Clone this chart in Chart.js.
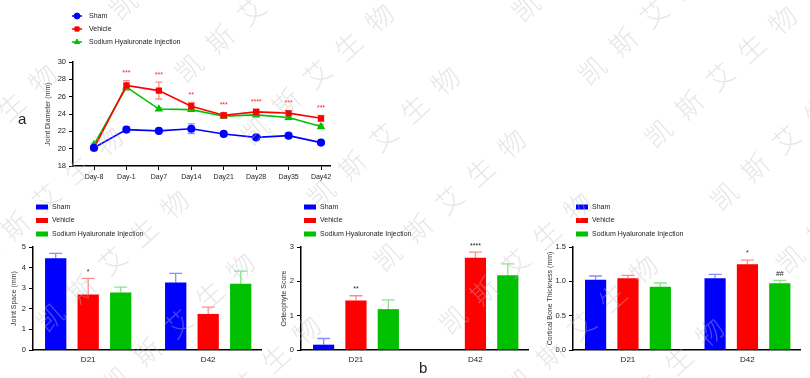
<!DOCTYPE html>
<html>
<head>
<meta charset="utf-8">
<script src="https://cdn.jsdelivr.net/npm/chart.js@4.4.1/dist/chart.umd.min.js"></script>
<style>
  body { margin: 0; background: #fff; width: 810px; height: 378px; overflow: hidden; position: relative; font-family: 'Liberation Sans', Arial, sans-serif; }
  canvas { position: absolute; }
  .panel { position: absolute; font-size: 15px; color: #222; line-height: 1; }
</style>
</head>
<body>
<canvas id="diameter-chart" style="left:0;top:0" width="360" height="190"></canvas>
<canvas id="space-chart" style="left:0;top:190px" width="270" height="188"></canvas>
<canvas id="osteo-chart" style="left:270px;top:190px" width="270" height="188"></canvas>
<canvas id="cortical-chart" style="left:540px;top:190px" width="270" height="188"></canvas>
<div class="panel" style="left:18px;top:111px">a</div>
<div class="panel" style="left:419px;top:360px">b</div>
<canvas id="watermark" style="left:0;top:0;pointer-events:none" width="810" height="378"></canvas>

<script>
// groups + colours
const groups = ['Sham', 'Vehicle', 'Sodium Hyaluronate Injection'];
const colors = ['#0000ff', '#ff0000', '#00c000'];
const errColors = ['rgba(0,0,255,0.45)', 'rgba(255,0,0,0.45)', 'rgba(0,192,0,0.45)'];
const pointStyles = ['circle', 'rect', 'triangle'];

// ** a - joint diameter over time
const days = ['Day-8', 'Day-1', 'Day7', 'Day14', 'Day21', 'Day28', 'Day35', 'Day42'];
const shamDiameter = [20.1, 22.2, 22.05, 22.3, 21.7, 21.3, 21.5, 20.7];
const shamDiameterErr = [0.15, 0.3, 0.15, 0.55, 0.15, 0.15, 0.15, 0.15];
const vehicleDiameter = [20.05, 27.3, 26.7, 24.9, 23.85, 24.25, 24.1, 23.5];
const vehicleDiameterErr = [0.15, 0.55, 0.97, 0.45, 0.3, 0.3, 0.3, 0.35];
const shiDiameter = [20.45, 27.1, 24.57, 24.5, 23.75, 23.9, 23.6, 22.55];
const shiDiameterErr = [0.2, 0.3, 0.15, 0.2, 0.2, 0.25, 0.25, 0.25];
const vehicleDiameterMarks = ['', '***', '***', '**', '***', '****', '***', '***'];

// ** b - bar panels
const timepoints = ['D21', 'D42'];

const shamSpace = [4.45, 3.28];
const shamSpaceErr = [0.24, 0.44];
const vehicleSpace = [2.69, 1.75];
const vehicleSpaceErr = [0.79, 0.33];
const shiSpace = [2.79, 3.21];
const shiSpaceErr = [0.26, 0.62];
const vehicleSpaceMarks = ['*', ''];

const shamOsteo = [0.155, null];
const shamOsteoErr = [0.18, 0];
const vehicleOsteo = [1.44, 2.69];
const vehicleOsteoErr = [0.14, 0.16];
const shiOsteo = [1.19, 2.18];
const shiOsteoErr = [0.27, 0.33];
const vehicleOsteoMarks = ['**', '****'];

const shamCortical = [1.024, 1.044];
const shamCorticalErr = [0.054, 0.058];
const vehicleCortical = [1.044, 1.248];
const vehicleCorticalErr = [0.043, 0.062];
const shiCortical = [0.922, 0.971];
const shiCorticalErr = [0.054, 0.044];
const vehicleCorticalMarks = ['', '*'];
const shiCorticalMarks = ['', '##'];

const FONT = "'Liberation Sans', Arial, sans-serif";

// error bars + star labels, drawn through the y scale
const errorBars = {
    id: 'errorBars',
    beforeDatasetsDraw(chart, args, opts) {
        if (opts.both) drawErrors(chart, opts);
    },
    afterDatasetsDraw(chart, args, opts) {
        if (!opts.both) drawErrors(chart, opts);
    }
};

function drawErrors(chart, opts) {
    const ctx = chart.ctx;
    const yScale = chart.scales.y;
    chart.data.datasets.forEach((ds, i) => {
        const meta = chart.getDatasetMeta(i);
        meta.data.forEach((el, j) => {
            const v = ds.data[j].y;
            if (v === null || v === undefined) return;
            const e = ds.err[j];
            const top = yScale.getPixelForValue(v + e);
            const bot = opts.both ? yScale.getPixelForValue(v - e) : el.y;
            ctx.save();
            ctx.strokeStyle = ds.errColor;
            ctx.lineWidth = 1.3;
            ctx.beginPath();
            ctx.moveTo(el.x, bot);
            ctx.lineTo(el.x, top);
            ctx.moveTo(el.x - opts.cap, top);
            ctx.lineTo(el.x + opts.cap, top);
            if (opts.both) {
                ctx.moveTo(el.x - opts.cap, bot);
                ctx.lineTo(el.x + opts.cap, bot);
            }
            ctx.stroke();
            if (ds.marks && ds.marks[j]) {
                ctx.fillStyle = opts.markColor;
                ctx.font = '7px ' + FONT;
                ctx.textAlign = 'center';
                ctx.textBaseline = 'bottom';
                ctx.fillText(ds.marks[j], el.x, top - opts.markGap);
            }
            ctx.restore();
        });
    });
}

// vertical legend in the top-left corner
const sideLegend = {
    id: 'sideLegend',
    afterDraw(chart, args, opts) {
        const ctx = chart.ctx;
        chart.data.datasets.forEach((ds, i) => {
            const y = opts.y + i * opts.dy;
            ctx.save();
            ctx.fillStyle = ds.backgroundColor;
            ctx.strokeStyle = ds.borderColor;
            if (opts.kind === 'line') {
                ctx.lineWidth = 1.5;
                ctx.beginPath();
                ctx.moveTo(opts.x, y);
                ctx.lineTo(opts.x + opts.w, y);
                ctx.stroke();
                ctx.lineWidth = 1;
                Chart.helpers.drawPoint(ctx, {pointStyle: ds.pointStyle, radius: 3, rotation: 0, borderWidth: 1}, opts.x + opts.w / 2, y);
            } else {
                ctx.fillRect(opts.x, y - 2.5, opts.w, 5);
            }
            ctx.fillStyle = '#222';
            ctx.font = '7px ' + FONT;
            ctx.textAlign = 'left';
            ctx.textBaseline = 'middle';
            ctx.fillText(ds.label, opts.textX, y);
            ctx.restore();
        });
    }
};

function yAxis(title, min, max, step, width, fmt) {
    return {
        min: min, max: max,
        afterFit: s => { s.width = width; },
        afterBuildTicks: s => {
            const t = [];
            for (let v = min; v <= max + 1e-9; v += step) t.push({value: +v.toFixed(3)});
            s.ticks = t;
        },
        ticks: {
            color: '#222', padding: 3,
            font: {family: FONT, size: 7.5},
            callback: fmt || (v => v)
        },
        grid: {drawOnChartArea: false, drawTicks: true, tickLength: 4, color: '#000', lineWidth: 1},
        border: {display: true, color: '#000', width: 1.5},
        title: {display: true, text: title, color: '#333', font: {family: FONT, size: 7}, padding: {top: 4, bottom: 0}}
    };
}

// ** line chart - joint diameter
const lineSets = [
    [shamDiameter, shamDiameterErr, null],
    [vehicleDiameter, vehicleDiameterErr, vehicleDiameterMarks],
    [shiDiameter, shiDiameterErr, null]
].map((s, i) => ({
    label: groups[i],
    data: days.map((d, k) => ({x: k, y: s[0][k]})),
    err: s[1],
    marks: s[2],
    errColor: errColors[i],
    borderColor: colors[i],
    backgroundColor: colors[i],
    pointStyle: pointStyles[i],
    pointRadius: 3.3,
    borderWidth: 1.6,
    tension: 0
}));

new Chart(document.getElementById('diameter-chart').getContext('2d'), {
    type: 'line',
    data: {datasets: lineSets},
    options: {
        responsive: false,
        animation: false,
        layout: {padding: {left: 40, top: 62, right: 30, bottom: 0}},
        plugins: {
            legend: {display: false},
            tooltip: {enabled: false},
            errorBars: {both: true, cap: 3.5, markColor: '#ff2020', markGap: 4},
            sideLegend: {kind: 'line', x: 72, w: 10, y: 16, dy: 13, textX: 89}
        },
        scales: {
            x: {
                type: 'linear',
                min: -0.6476, max: 7.2775,
                offset: false,
                afterFit: s => { s.height = 24; },
                afterBuildTicks: s => { s.ticks = days.map((d, k) => ({value: k})); },
                ticks: {color: '#222', padding: 3, maxRotation: 0, autoSkip: false, font: {family: FONT, size: 7}, callback: v => days[v]},
                grid: {drawOnChartArea: false, drawTicks: true, tickLength: 4, color: '#000', lineWidth: 1},
                border: {display: true, color: '#000', width: 1.5}
            },
            y: yAxis('Joint Diameter (mm)', 18, 30, 2, 33)
        }
    },
    plugins: [errorBars, sideLegend]
});

// ** bar charts
function barChart(id, yTitle, sets, yMin, yMax, yStep, yWidth, padLeft, padTop, padRight, fmt) {
    const datasets = sets.map((s, i) => ({
        label: groups[i],
        data: timepoints.map((t, k) => ({x: k, y: s[0][k]})),
        err: s[1],
        marks: s[2],
        errColor: errColors[i],
        backgroundColor: colors[i],
        borderColor: colors[i],
        borderWidth: 0,
        categoryPercentage: 0.8125,
        barPercentage: 0.655
    }));
    return new Chart(document.getElementById(id).getContext('2d'), {
        type: 'bar',
        data: {datasets: datasets},
        options: {
            responsive: false,
            animation: false,
            layout: {padding: {left: padLeft, top: padTop, right: padRight, bottom: 0}},
            plugins: {
                legend: {display: false},
                tooltip: {enabled: false},
                errorBars: {both: false, cap: 6.5, markColor: '#222', markGap: 3},
                sideLegend: {kind: 'box', x: padLeft + yWidth + 3, w: 12, y: 17, dy: 13.5, textX: padLeft + yWidth + 19}
            },
            scales: {
                x: {
                    type: 'linear',
                    min: -0.46, max: 1.44,
                    offset: false,
                    afterFit: s => { s.height = 28; },
                    afterBuildTicks: s => { s.ticks = timepoints.map((t, k) => ({value: k})); },
                    ticks: {color: '#222', padding: 5, maxRotation: 0, font: {family: FONT, size: 8}, callback: v => timepoints[v]},
                    grid: {drawOnChartArea: false, drawTicks: false, color: '#000'},
                    border: {display: true, color: '#000', width: 1.5}
                },
                y: yAxis(yTitle, yMin, yMax, yStep, yWidth, fmt)
            }
        },
        plugins: [errorBars, sideLegend]
    });
}

barChart('space-chart', 'Joint Space (mm)', [
    [shamSpace, shamSpaceErr, null],
    [vehicleSpace, vehicleSpaceErr, vehicleSpaceMarks],
    [shiSpace, shiSpaceErr, null]
], 0, 5, 1, 27, 6, 57, 9);

barChart('osteo-chart', 'Osteophyte Score', [
    [shamOsteo, shamOsteoErr, null],
    [vehicleOsteo, vehicleOsteoErr, vehicleOsteoMarks],
    [shiOsteo, shiOsteoErr, null]
], 0, 3, 1, 25, 6, 57, 12);

barChart('cortical-chart', 'Cortical Bone Thickness (mm)', [
    [shamCortical, shamCorticalErr, null],
    [vehicleCortical, vehicleCorticalErr, vehicleCorticalMarks],
    [shiCortical, shiCorticalErr, shiCorticalMarks]
], 0, 1.5, 0.5, 31, 2, 57, 10, v => v.toFixed(1));

// watermark overlay (diagonal rows of the company name)
const wm = document.getElementById('watermark').getContext('2d');
const wmText = '凯斯艾生物';
const ang = -42.3 * Math.PI / 180;
const ux = Math.cos(ang), uy = Math.sin(ang);
const vx = -uy, vy = ux;
wm.fillStyle = 'rgba(190,190,190,0.38)';
wm.font = "300 27px 'Noto Sans CJK SC'";
wm.textAlign = 'center';
wm.textBaseline = 'middle';
for (let n = -8; n <= 8; n++) {
    for (let m = -5; m <= 5; m++) {
        const along = m * 277 + n * 6.5;
        const ax = 658 + along * ux + n * 91 * vx;
        const ay = 133 + along * uy + n * 91 * vy;
        for (let k = 0; k < wmText.length; k++) {
            const cx = ax + k * 42 * ux, cy = ay + k * 42 * uy;
            if (cx < -30 || cx > 840 || cy < -30 || cy > 410) continue;
            wm.save();
            wm.translate(cx, cy);
            wm.rotate(ang);
            wm.fillText(wmText[k], 0, 0);
            wm.restore();
        }
    }
}
</script>
</body>
</html>
